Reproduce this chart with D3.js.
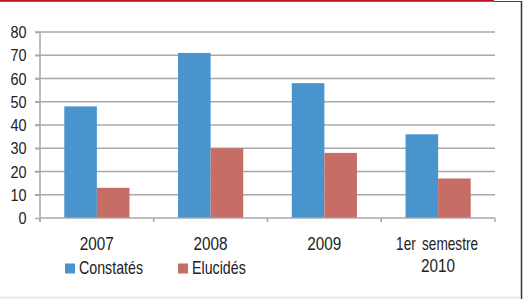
<!DOCTYPE html>
<head>
  <meta charset="utf-8">
  <script src="https://d3js.org/d3.v7.min.js"></script>
  <style>
    body { margin: 0; background: #fff; }
    svg { display: block; }
    text { font-family: "Liberation Sans", Arial, sans-serif; fill: #222; }
  </style>
</head>
<body>
<script type='text/javascript'>

  var categories = [["2007"], ["2008"], ["2009"], ["1er semestre", "2010"]];
  var constates = [48, 71, 58, 36];
  var elucides = [13, 30, 28, 17];
  var seriesNames = ["Constatés", "Elucidés"];
  var yTicks = [0, 10, 20, 30, 40, 50, 60, 70, 80];

  var colors = ["#4a94cd", "#c66e66"];
  var width = 523, height = 299;
  var margin = { top: 32, left: 40, bottom: 81, right: 28 };

  var svg = d3.select('body')
    .append('svg')
    .attr("width", width)
    .attr("height", height);

  // narrow text helper: the original font is condensed
  function narrowText(sel, x, y, str, size, sx, anchor) {
    var g = sel.append("g").attr("transform", "translate(" + x + "," + y + ") scale(" + sx + ",1)");
    return g.append("text").attr("font-size", size).attr("text-anchor", anchor || "start").text(str);
  }

  // frame
  svg.append("line").attr("x1", 0).attr("x2", 494).attr("y1", 0.8).attr("y2", 0.8)
    .attr("stroke", "#b8121c").attr("stroke-width", 2);
  svg.append("line").attr("x1", 494).attr("x2", 522).attr("y1", 1.5).attr("y2", 1.5)
    .attr("stroke", "#444").attr("stroke-width", 1);
  svg.append("line").attr("x1", 521.5).attr("x2", 521.5).attr("y1", 1).attr("y2", height)
    .attr("stroke", "#333").attr("stroke-width", 1.5);
  svg.append("line").attr("x1", 0).attr("x2", 521).attr("y1", 297.5).attr("y2", 297.5)
    .attr("stroke", "#e4e4e4").attr("stroke-width", 1.5);

  var keys = categories.map(function(d, i) { return i; });

  var x0 = d3.scaleBand()
    .domain(keys)
    .range([margin.left, width - margin.right])
    .paddingInner(0)
    .paddingOuter(0);

  var x1 = d3.scaleBand()
    .domain([0, 1])
    .range([0, x0.bandwidth()])
    .paddingInner(0)
    .paddingOuter(0.745);

  var y = d3.scaleLinear()
    .domain([0, 80])
    .range([height - margin.bottom, margin.top]);

  // gridlines
  svg.append("g").selectAll("line")
    .data(yTicks.filter(function(d) { return d > 0; }))
    .enter().append("line")
    .attr("x1", margin.left - 5)
    .attr("x2", width - margin.right)
    .attr("y1", function(d) { return y(d); })
    .attr("y2", function(d) { return y(d); })
    .attr("stroke", "#a8a8a8")
    .attr("stroke-width", 1.5);

  // y axis
  var yAxis = d3.axisLeft(y).tickValues(yTicks).tickSize(5).tickFormat("");
  var gy = svg.append("g")
    .attr("transform", "translate(" + margin.left + ",0)")
    .call(yAxis);
  gy.select(".domain").attr("stroke", "#a8a8a8").attr("stroke-width", 1.5)
    .attr("d", "M0," + (y(80)) + "V" + (y(0) + 4));
  gy.selectAll(".tick line").attr("stroke", "#a8a8a8").attr("stroke-width", 1.5);
  var yLab = svg.append("g");
  yTicks.forEach(function(t) {
    narrowText(yLab, 26.5, y(t) + 6, String(t), 17, 0.85, "end");
  });

  // bars
  var groups = svg.append("g").selectAll("g")
    .data(keys)
    .enter().append("g")
    .attr("transform", function(d) { return "translate(" + x0(d) + ",0)"; });

  groups.selectAll("rect")
    .data(function(i) { return [constates[i], elucides[i]]; })
    .enter().append("rect")
    .attr("x", function(d, j) { return x1(j); })
    .attr("width", x1.bandwidth())
    .attr("y", function(d) { return y(d); })
    .attr("height", function(d) { return y(0) - y(d); })
    .attr("fill", function(d, j) { return colors[j]; });

  // x axis
  var xAxis = d3.axisBottom(x0).tickSize(0).tickFormat("");
  var gx = svg.append("g")
    .attr("transform", "translate(0," + y(0) + ")")
    .call(xAxis);
  gx.select(".domain").attr("stroke", "#a8a8a8").attr("stroke-width", 1.5)
    .attr("d", "M" + margin.left + ",0H" + (width - margin.right));
  gx.selectAll(".sep")
    .data(keys.concat([keys.length]))
    .enter().append("line")
    .attr("class", "sep")
    .attr("x1", function(d) { return margin.left + d * x0.step(); })
    .attr("x2", function(d) { return margin.left + d * x0.step(); })
    .attr("y1", 0).attr("y2", 4)
    .attr("stroke", "#a8a8a8").attr("stroke-width", 1.5);

  // category labels
  var xLab = svg.append("g");
  keys.forEach(function(i) {
    var cx = x0(i) + x0.bandwidth() / 2;
    categories[i].forEach(function(line, j) {
      var isNum = /^\d+$/.test(line);
      var t = narrowText(xLab, cx - (isNum ? 0 : 1), 250 + j * 22, line, 18, isNum ? 0.85 : 0.76, "middle");
      if (!isNum) t.style("word-spacing", "3px");
    });
  });

  // legend
  var legend = svg.append("g");
  seriesNames.forEach(function(name, i) {
    var lx = 65 + i * 113;
    legend.append("rect").attr("x", lx).attr("y", 263.5).attr("width", 10).attr("height", 10)
      .attr("fill", colors[i]);
    narrowText(legend, lx + 14, 273.5, name, 18, 0.79, "start");
  });

</script>
</body>
